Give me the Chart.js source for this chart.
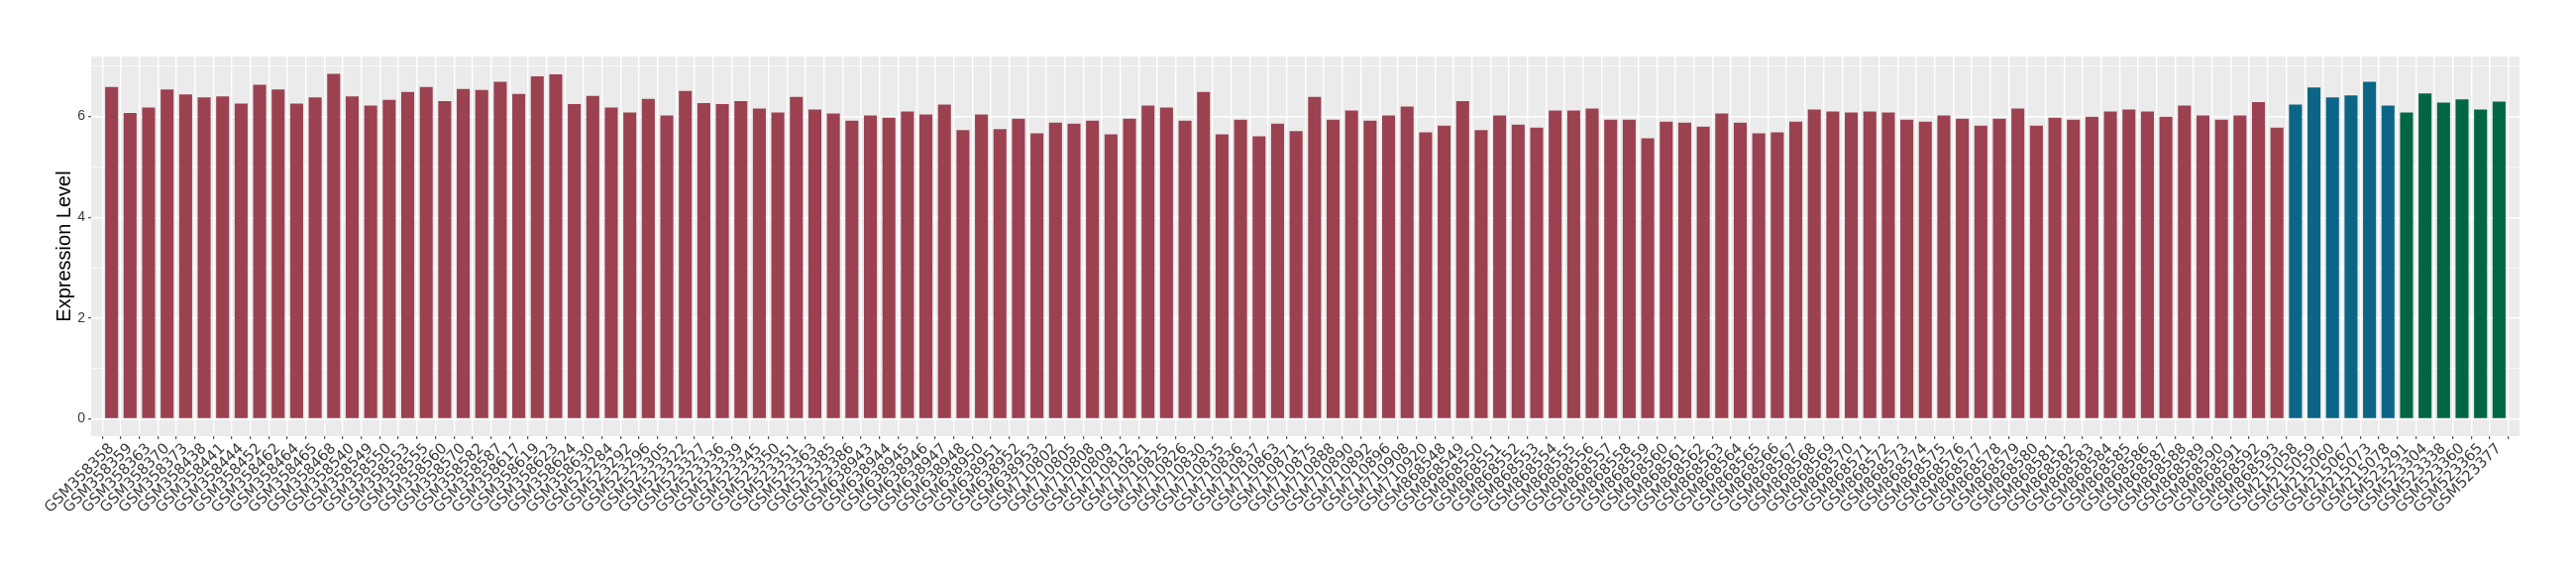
<!DOCTYPE html>
<html lang="en">
<head>
  <meta charset="UTF-8">
  <title>Expression Level</title>
  <script src="https://cdn.jsdelivr.net/npm/chart.js"></script>
  <style>
    body { margin: 0; background: #ffffff; }
  </style>
</head>
<body>
  <canvas id="expr" width="2600" height="580"></canvas>

  <script>
    // samples in the first (red) group
    const samplesA = [
      "GSM358358", "GSM358359", "GSM358363", "GSM358370", "GSM358373", "GSM358438", "GSM358441", "GSM358444", "GSM358452", "GSM358462",
      "GSM358464", "GSM358465", "GSM358468", "GSM358540", "GSM358549", "GSM358550", "GSM358553", "GSM358555", "GSM358560", "GSM358570",
      "GSM358582", "GSM358587", "GSM358617", "GSM358619", "GSM358623", "GSM358624", "GSM358630", "GSM523284", "GSM523292", "GSM523296",
      "GSM523305", "GSM523322", "GSM523327", "GSM523336", "GSM523339", "GSM523345", "GSM523350", "GSM523351", "GSM523363", "GSM523385",
      "GSM523386", "GSM638943", "GSM638944", "GSM638945", "GSM638946", "GSM638947", "GSM638948", "GSM638950", "GSM638951", "GSM638952",
      "GSM638953", "GSM710802", "GSM710805", "GSM710808", "GSM710809", "GSM710812", "GSM710821", "GSM710825", "GSM710826", "GSM710830",
      "GSM710835", "GSM710836", "GSM710837", "GSM710863", "GSM710871", "GSM710875", "GSM710888", "GSM710890", "GSM710892", "GSM710896",
      "GSM710908", "GSM710920", "GSM868548", "GSM868549", "GSM868550", "GSM868551", "GSM868552", "GSM868553", "GSM868554", "GSM868555",
      "GSM868556", "GSM868557", "GSM868558", "GSM868559", "GSM868560", "GSM868561", "GSM868562", "GSM868563", "GSM868564", "GSM868565",
      "GSM868566", "GSM868567", "GSM868568", "GSM868569", "GSM868570", "GSM868571", "GSM868572", "GSM868573", "GSM868574", "GSM868575",
      "GSM868576", "GSM868577", "GSM868578", "GSM868579", "GSM868580", "GSM868581", "GSM868582", "GSM868583", "GSM868584", "GSM868585",
      "GSM868586", "GSM868587", "GSM868588", "GSM868589", "GSM868590", "GSM868591", "GSM868592", "GSM868593"
    ];
    const valuesA = [
      6.59, 6.07, 6.18, 6.54, 6.44, 6.38, 6.40, 6.26, 6.63, 6.54,
      6.26, 6.38, 6.85, 6.40, 6.22, 6.33, 6.49, 6.59, 6.31, 6.55,
      6.53, 6.69, 6.45, 6.80, 6.84, 6.25, 6.41, 6.18, 6.08, 6.35,
      6.02, 6.51, 6.27, 6.25, 6.31, 6.16, 6.08, 6.39, 6.14, 6.06,
      5.92, 6.02, 5.98, 6.10, 6.04, 6.24, 5.73, 6.04, 5.75, 5.96,
      5.67, 5.88, 5.86, 5.92, 5.65, 5.96, 6.22, 6.18, 5.92, 6.49,
      5.65, 5.94, 5.61, 5.86, 5.71, 6.39, 5.94, 6.12, 5.92, 6.02,
      6.20, 5.69, 5.82, 6.31, 5.73, 6.02, 5.84, 5.78, 6.12, 6.12,
      6.16, 5.94, 5.94, 5.57, 5.90, 5.88, 5.80, 6.06, 5.88, 5.67,
      5.69, 5.90, 6.14, 6.10, 6.08, 6.10, 6.08, 5.94, 5.90, 6.02,
      5.96, 5.82, 5.96, 6.16, 5.82, 5.98, 5.94, 6.00, 6.10, 6.14,
      6.10, 6.00, 6.22, 6.02, 5.94, 6.02, 6.29, 5.78
    ];

    // second (blue) group
    const samplesB = ["GSM215058", "GSM215059", "GSM215060", "GSM215067", "GSM215073", "GSM215078"];
    const valuesB = [6.24, 6.58, 6.38, 6.42, 6.69, 6.22];

    // third (green) group
    const samplesC = ["GSM523291", "GSM523304", "GSM523338", "GSM523360", "GSM523365", "GSM523377"];
    const valuesC = [6.08, 6.46, 6.28, 6.34, 6.14, 6.30];

    const yTicks = [0, 1, 2, 3, 4, 5, 6, 7];
    const yLabelled = [0, 2, 4, 6];

    const samples = samplesA.concat(samplesB, samplesC);
    const values = valuesA.concat(valuesB, valuesC);
    const colors = samplesA.map(() => "#9B4150")
      .concat(samplesB.map(() => "#0B6587"), samplesC.map(() => "#006646"));
    const points = values.map((v, i) => ({ x: i, y: v }));

    // grey panel behind the grid, like ggplot's theme_grey
    const panelBg = {
      id: "panelBg",
      beforeDraw(chart) {
        const a = chart.chartArea;
        const ctx = chart.ctx;
        ctx.save();
        ctx.fillStyle = "#EBEBEB";
        ctx.fillRect(a.left, a.top, a.right - a.left, a.bottom - a.top);
        ctx.restore();
      }
    };

    const isMajor = c => c.tick && yLabelled.includes(c.tick.value);

    new Chart(document.getElementById("expr").getContext("2d"), {
      type: "bar",
      data: {
        datasets: [{
          data: points,
          backgroundColor: colors,
          borderWidth: 0,
          barPercentage: 1,
          categoryPercentage: 0.7
        }]
      },
      options: {
        responsive: false,
        animation: false,
        layout: { padding: { left: 50, top: 57, right: 57, bottom: 0 } },
        plugins: { legend: { display: false }, tooltip: { enabled: false } },
        scales: {
          x: {
            type: "linear",
            bounds: "data",
            min: -0.6,
            max: samples.length - 0.4,
            afterBuildTicks: s => { s.ticks = samples.map((_, i) => ({ value: i })); },
            afterFit: s => { s.height = 140; },
            grid: { color: "#FFFFFF", lineWidth: 1.4, tickColor: "#333333", tickWidth: 1, tickLength: 3 },
            border: { display: false },
            ticks: {
              autoSkip: false,
              minRotation: 45,
              maxRotation: 45,
              padding: 1,
              color: "#3A3A3A",
              font: { family: "DejaVu Sans", size: 15 },
              callback: v => samples[v]
            }
          },
          y: {
            bounds: "data",
            min: -0.343,
            max: 7.193,
            afterBuildTicks: s => { s.ticks = yTicks.map(v => ({ value: v })); },
            afterFit: s => { s.width = 42; },
            grid: {
              color: "#FFFFFF",
              lineWidth: c => isMajor(c) ? 1.4 : 0.7,
              tickColor: c => isMajor(c) ? "#333333" : "rgba(0,0,0,0)",
              tickWidth: 1,
              tickLength: 3
            },
            border: { display: false },
            ticks: {
              padding: 3,
              color: "#3A3A3A",
              font: { family: "Liberation Sans", size: 14 },
              callback: v => yLabelled.includes(v) ? String(v) : ""
            },
            title: {
              display: true,
              text: "Expression Level",
              color: "#000000",
              font: { family: "Liberation Sans", size: 20 },
              padding: { top: 3, bottom: 0 }
            }
          }
        }
      },
      plugins: [panelBg]
    });
  </script>
</body>
</html>
